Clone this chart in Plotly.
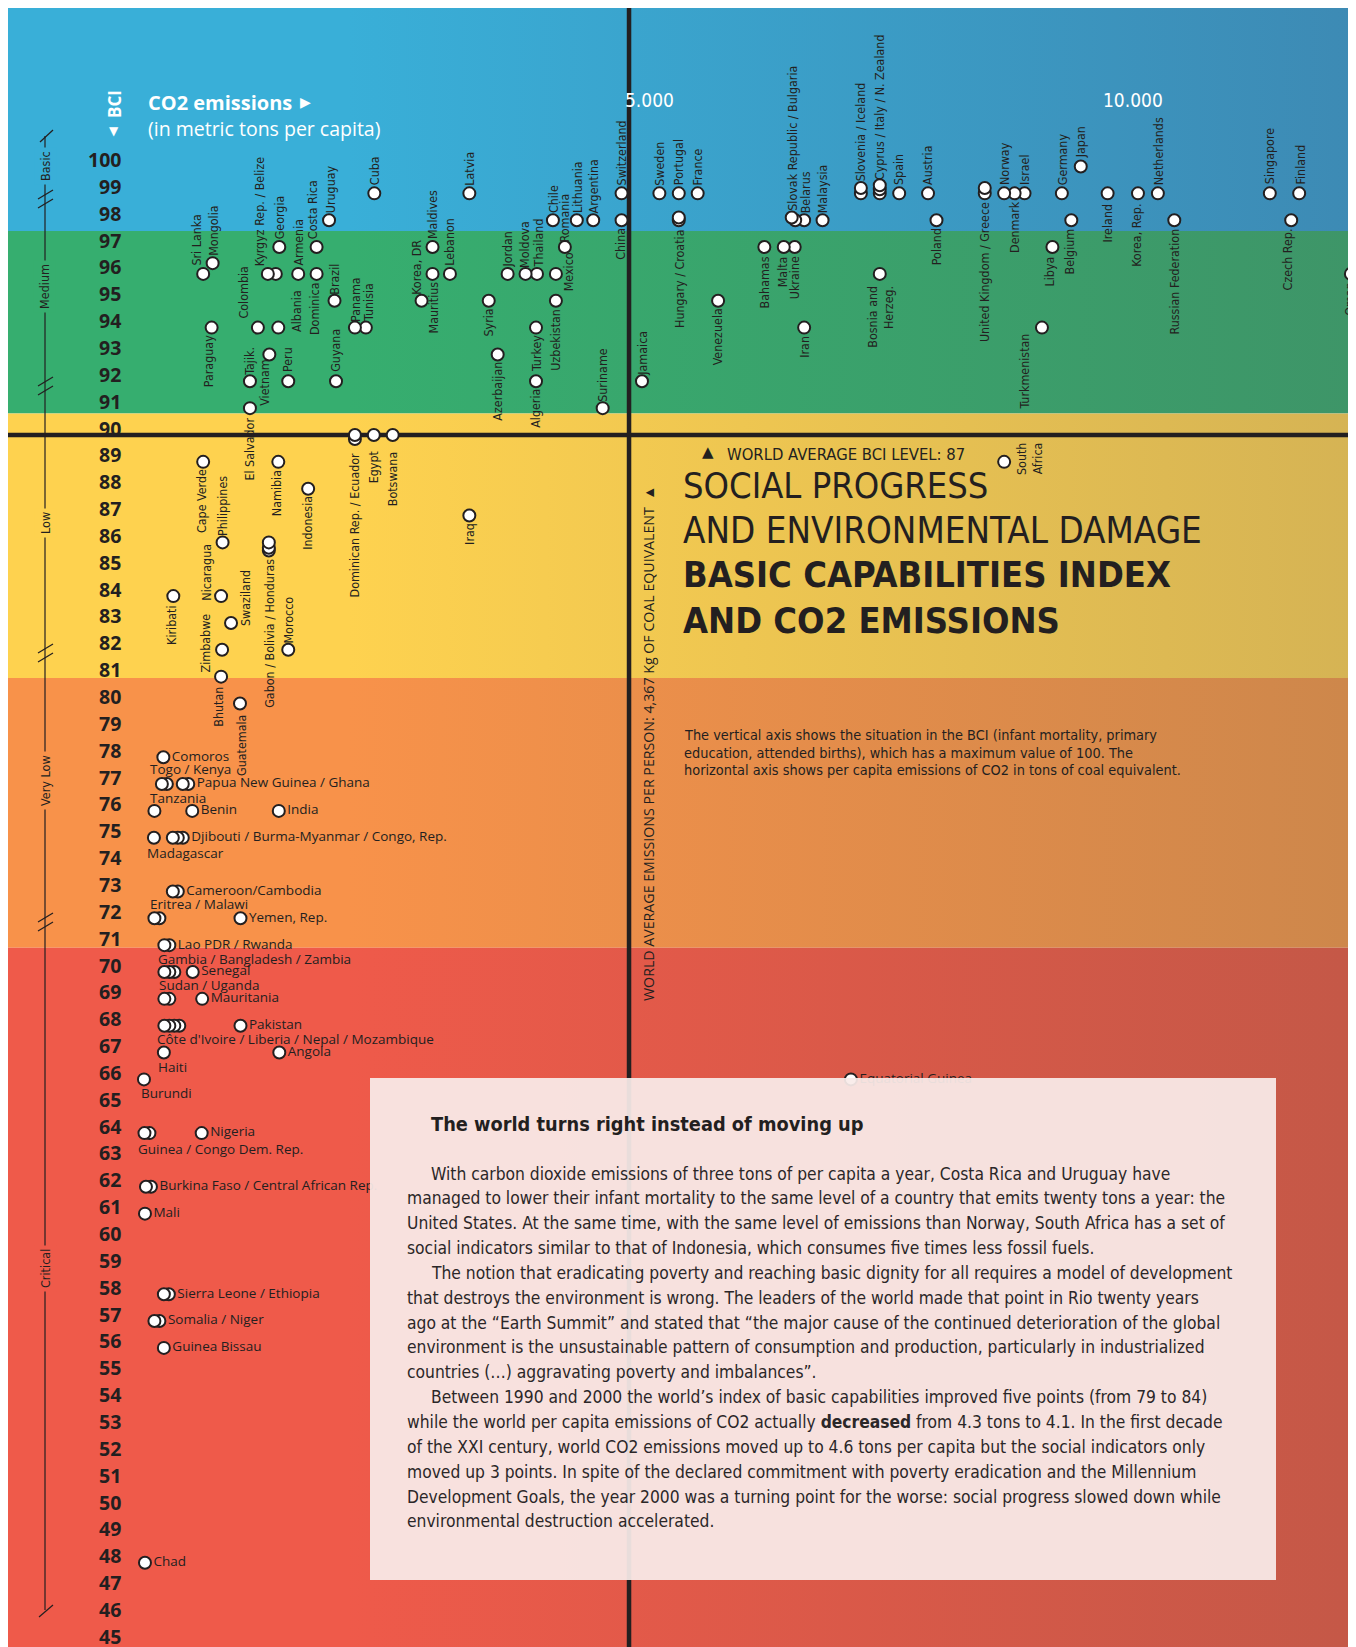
import plotly.graph_objects as go

# ------------------------------------------------------------------ data
countries = [
    "Sri Lanka", "Mongolia", "Kyrgyz Rep.", "Belize", "Georgia", "Armenia",
    "Costa Rica", "Uruguay", "Dominica", "Brazil", "Colombia", "Albania",
    "Paraguay", "Tajik.", "Vietnam", "Peru", "Guyana", "El Salvador",
    "Panama", "Tunisia", "Cuba", "Korea, DR", "Mauritius", "Maldives",
    "Lebanon", "Latvia", "Syria", "Azerbaijan", "Jordan", "Moldova",
    "Thailand", "Turkey", "Algeria", "Uzbekistan", "Mexico", "Romania",
    "Chile", "Lithuania", "Argentina", "Suriname", "China", "Switzerland",
    "Jamaica", "Sweden", "Portugal", "France", "Hungary", "Croatia",
    "Venezuela", "Bahamas", "Malta", "Ukraine", "Iran", "Slovak Republic",
    "Bulgaria", "Belarus", "Malaysia", "Slovenia", "Iceland", "Cyprus",
    "Italy", "N. Zealand", "Spain", "Bosnia and Herzeg.", "Austria", "Poland",
    "United Kingdom", "Greece", "Norway", "Denmark", "Israel", "Turkmenistan",
    "Libya", "Germany", "Japan", "Belgium", "Ireland", "Korea, Rep.",
    "Netherlands", "Russian Federation", "Singapore", "Finland", "Czech Rep.", "Oman",
    "South Africa", "Equatorial Guinea", "Dominican Rep.", "Ecuador", "Egypt", "Botswana",
    "Cape Verde", "Philippines", "Namibia", "Indonesia", "Iraq", "Gabon",
    "Bolivia", "Honduras", "Nicaragua", "Kiribati", "Swaziland", "Zimbabwe",
    "Morocco", "Bhutan", "Guatemala", "Comoros", "Togo", "Kenya",
    "Papua New Guinea", "Ghana", "Tanzania", "Benin", "India", "Madagascar",
    "Djibouti", "Burma-Myanmar", "Congo, Rep.", "Cameroon", "Cambodia", "Eritrea",
    "Malawi", "Yemen, Rep.", "Lao PDR", "Rwanda", "Gambia", "Bangladesh",
    "Zambia", "Senegal", "Sudan", "Uganda", "Mauritania", "Côte d'Ivoire",
    "Liberia", "Nepal", "Mozambique", "Pakistan", "Haiti", "Angola",
    "Burundi", "Guinea", "Congo Dem. Rep.", "Nigeria", "Burkina Faso", "Central African Rep.",
    "Mali", "Sierra Leone", "Ethiopia", "Somalia", "Niger", "Guinea Bissau",
    "Chad",
]
co2_kg = [
    655, 750, 1305, 1385, 1420, 1610,
    1795, 1920, 1795, 1975, 1205, 1410,
    740, 1125, 1320, 1510, 1990, 1125,
    2180, 2290, 2375, 2850, 2960, 2960,
    3135, 3330, 3525, 3615, 3715, 3895,
    4010, 4000, 4000, 4200, 4200, 4290,
    4170, 4410, 4575, 4670, 4860, 4860,
    5065, 5240, 5435, 5625, 5435, 5435,
    5830, 6295, 6490, 6600, 6695, 6570,
    6605, 6695, 6880, 7265, 7265, 7455,
    7455, 7455, 7650, 7455, 7940, 8025,
    8510, 8510, 8705, 8810, 8910, 9085,
    9190, 9285, 9475, 9380, 9745, 10050,
    10250, 10415, 11375, 11670, 11590, 12190,
    8705, 7165, 2180, 2180, 2370, 2560,
    655, 850, 1410, 1710, 3330, 1315,
    1315, 1315, 835, 355, 935, 845,
    1510, 835, 1025, 255, 240, 290,
    450, 505, 165, 545, 1415, 160,
    350, 400, 450, 350, 400, 165,
    215, 1030, 265, 315, 265, 315,
    365, 550, 265, 315, 645, 265,
    315, 365, 415, 1030, 260, 1420,
    60, 65, 115, 640, 80, 130,
    70, 260, 310, 165, 215, 260,
    70,
]
bci = [
    96, 96.4, 96, 96, 97, 96,
    97, 98, 96, 95, 94, 94,
    94, 92, 93, 92, 92, 91,
    94, 94, 99, 95, 96, 97,
    96, 99, 95, 93, 96, 96,
    96, 94, 92, 95, 96, 97,
    98, 98, 98, 91, 98, 99,
    92, 99, 99, 99, 98.1, 98,
    95, 97, 97, 97, 94, 98.1,
    98, 98, 98, 99.2, 99, 99.3,
    99.15, 99, 99, 96, 99, 98,
    99.2, 99, 99, 99, 99, 94,
    97, 99, 100, 98, 99, 99,
    99, 98, 99, 99, 98, 96,
    89, 66, 90, 89.85, 90, 90,
    89, 86, 89, 88, 87, 86,
    85.8, 85.7, 84, 84, 83, 82,
    82, 81, 80, 78, 77, 77,
    77, 77, 76, 76, 76, 75,
    75, 75, 75, 73, 73, 72,
    72, 72, 71, 71, 70, 70,
    70, 70, 69, 69, 69, 68,
    68, 68, 68, 68, 67, 67,
    66, 64, 64, 64, 62, 62,
    61, 58, 58, 57, 57, 56,
    48,
]

# labels shared by several overlapping dots
group_members = {
    "Kyrgyz Rep. / Belize": ["Kyrgyz Rep.", "Belize"],
    "Hungary / Croatia": ["Hungary", "Croatia"],
    "Slovak Republic / Bulgaria": ["Slovak Republic", "Bulgaria"],
    "Slovenia / Iceland": ["Slovenia", "Iceland"],
    "Cyprus / Italy / N. Zealand": ["Cyprus", "Italy", "N. Zealand"],
    "United Kingdom / Greece": ["United Kingdom", "Greece"],
    "Dominican Rep. / Ecuador": ["Dominican Rep.", "Ecuador"],
    "Gabon / Bolivia / Honduras": ["Gabon", "Bolivia", "Honduras"],
    "Togo / Kenya": ["Togo", "Kenya"],
    "Papua New Guinea / Ghana": ["Papua New Guinea", "Ghana"],
    "Djibouti / Burma-Myanmar / Congo, Rep.": ["Djibouti", "Burma-Myanmar", "Congo, Rep."],
    "Cameroon/Cambodia": ["Cameroon", "Cambodia"],
    "Eritrea / Malawi": ["Eritrea", "Malawi"],
    "Lao PDR / Rwanda": ["Lao PDR", "Rwanda"],
    "Gambia / Bangladesh / Zambia": ["Gambia", "Bangladesh", "Zambia"],
    "Sudan / Uganda": ["Sudan", "Uganda"],
    "Côte d'Ivoire / Liberia / Nepal / Mozambique": ["Côte d'Ivoire", "Liberia", "Nepal", "Mozambique"],
    "Guinea / Congo Dem. Rep.": ["Guinea", "Congo Dem. Rep."],
    "Burkina Faso / Central African Rep.": ["Burkina Faso", "Central African Rep."],
    "Sierra Leone / Ethiopia": ["Sierra Leone", "Ethiopia"],
    "Somalia / Niger": ["Somalia", "Niger"],
}
label_text = {"Bosnia and Herzeg.": "Bosnia and<br>Herzeg.", "South Africa": "South<br>Africa"}

bci_ticks = list(range(45, 101))
x_tick_vals = [5000, 10000]
x_tick_text = ["5.000", "10.000"]

world_avg_bci_line = 90          # horizontal line, as drawn
world_avg_emission_line = 4935   # vertical line, as drawn on the emission scale

band_names = ["Basic", "Medium", "Low", "Very Low", "Critical"]
band_edges = [97.6, 90.8, 80.95, 70.9]

# ------------------------------------------------------------------ label placement (style)
# kind: up / down = rotated text above / below the dot; ha / hb = horizontal above / below;
# r = horizontal, right of the dot.  dx, dy: pixel offsets (dy positive = downwards)
LABEL_POS = {
    "Sri Lanka": ("up", -7, -7), "Mongolia": ("up", 1, -6), "Kyrgyz Rep. / Belize": ("up", -8, -7),
    "Georgia": ("up", 0, -7), "Armenia": ("up", 0, -7), "Costa Rica": ("up", -4, -7),
    "Uruguay": ("up", 1, -6), "Dominica": ("down", -2, 7), "Brazil": ("up", 0, -5),
    "Colombia": ("up", -14, -8), "Albania": ("up", 18, 5), "Paraguay": ("down", -3, 7),
    "Tajik.": ("up", 0, -5), "Vietnam": ("down", -5, 4), "Peru": ("up", 0, -8),
    "Guyana": ("up", 0, -8), "El Salvador": ("down", 0, 8), "Panama": ("up", 0, -5),
    "Tunisia": ("up", 2, -5), "Cuba": ("up", 1, -7), "Korea, DR": ("up", -5, -5),
    "Mauritius": ("down", 1, 7), "Maldives": ("up", 0, -7), "Lebanon": ("up", 0, -7),
    "Latvia": ("up", 0, -7), "Syria": ("down", 0, 7), "Azerbaijan": ("down", 0, 6),
    "Jordan": ("up", 0, -5), "Moldova": ("up", -1, -5), "Thailand": ("up", 1, -5),
    "Turkey": ("down", 0, 7), "Algeria": ("down", 0, 7), "Uzbekistan": ("down", 0, 7),
    "Mexico": ("up", 12, 18), "Romania": ("up", 0, -4), "Chile": ("up", 0, -6),
    "Lithuania": ("up", 0, -6), "Argentina": ("up", 0, -6), "Suriname": ("up", -1, -5),
    "China": ("down", -1, 7), "Switzerland": ("up", 0, -7), "Jamaica": ("up", 1, -5),
    "Sweden": ("up", 0, -7), "Portugal": ("up", 0, -7), "France": ("up", 0, -7),
    "Hungary / Croatia": ("down", 0, 9), "Venezuela": ("down", -1, 7), "Bahamas": ("down", 0, 8),
    "Malta": ("down", -1, 8), "Ukraine": ("down", 0, 8), "Iran": ("down", 0, 7),
    "Slovak Republic / Bulgaria": ("up", 0, -6), "Belarus": ("up", 1, -6), "Malaysia": ("up", 0, -6),
    "Slovenia / Iceland": ("up", 0, -6), "Cyprus / Italy / N. Zealand": ("up", 0, -4),
    "Spain": ("up", 0, -7), "Bosnia and Herzeg.": ("down", 1, 11), "Austria": ("up", 0, -7),
    "Poland": ("down", 0, 7), "United Kingdom / Greece": ("down", 0, 8), "Norway": ("up", 1, -7),
    "Denmark": ("down", 0, 7), "Israel": ("up", 0, -7), "Turkmenistan": ("down", -17, 5),
    "Libya": ("down", -3, 8), "Germany": ("up", 0, -7), "Japan": ("up", 0, -7),
    "Belgium": ("down", -2, 7), "Ireland": ("down", 0, 9), "Korea, Rep.": ("down", -1, 9),
    "Netherlands": ("up", 0, -7), "Russian Federation": ("down", 0, 7), "Singapore": ("up", 0, -8),
    "Finland": ("up", 1, -8), "Czech Rep.": ("down", -4, 7), "Oman": ("down", -1, 7),
    "South Africa": ("up", 26, 14),
    "Dominican Rep. / Ecuador": ("down", 0, 12), "Egypt": ("down", 0, 14), "Botswana": ("down", 0, 15),
    "Cape Verde": ("down", -1, 6), "Philippines": ("up", 0, -5), "Namibia": ("down", -1, 7),
    "Indonesia": ("down", 0, 6), "Iraq": ("down", 0, 6), "Gabon / Bolivia / Honduras": ("down", 1, 7),
    "Nicaragua": ("up", -14, 6), "Kiribati": ("down", -2, 9), "Swaziland": ("up", 15, 4),
    "Zimbabwe": ("up", -17, 24), "Morocco": ("up", 0, -5), "Bhutan": ("down", -2, 9),
    "Guatemala": ("down", 1, 10),
    "Togo / Kenya": ("ha", -12, -15), "Tanzania": ("ha", -4, -13), "Eritrea / Malawi": ("ha", -4, -14),
    "Gambia / Bangladesh / Zambia": ("ha", -6, -13), "Sudan / Uganda": ("ha", -5, -14),
    "Madagascar": ("hb", -7, 15), "Côte d'Ivoire / Liberia / Nepal / Mozambique": ("hb", -7, 13),
    "Haiti": ("hb", -6, 14), "Burundi": ("hb", -3, 14), "Guinea / Congo Dem. Rep.": ("hb", -6, 16),
    "Comoros": ("r", 0, 0), "Papua New Guinea / Ghana": ("r", 0, 0), "Benin": ("r", 0, 0),
    "India": ("r", 0, 0), "Djibouti / Burma-Myanmar / Congo, Rep.": ("r", 0, 0),
    "Cameroon/Cambodia": ("r", 0, 0), "Yemen, Rep.": ("r", 0, 0), "Lao PDR / Rwanda": ("r", 0, 0),
    "Senegal": ("r", 0, 0), "Mauritania": ("r", 0, 0), "Pakistan": ("r", 0, 0), "Angola": ("r", 0, 0),
    "Nigeria": ("r", 0, 0), "Burkina Faso / Central African Rep.": ("r", 0, 0), "Mali": ("r", 0, 0),
    "Sierra Leone / Ethiopia": ("r", 0, 0), "Somalia / Niger": ("r", 0, 0),
    "Guinea Bissau": ("r", 0, 0), "Chad": ("r", 0, 0), "Equatorial Guinea": ("r", 0, 0),
}

# ------------------------------------------------------------------ geometry
W, H, OFF = 1356, 1647, 8
X0, KPX = 138.0, 0.0995          # page px of 0 kg, px per kg
Y90, UPX = 435.0, 26.85          # page px of BCI 90, px per BCI point

x_range = [(OFF - X0) / KPX, (OFF + W - X0) / KPX]
y_range = [90 - (OFF + H - Y90) / UPX, 90 + (Y90 - OFF) / UPX]


def px(X):
    return (X - OFF) / W


def py(Y):
    return 1 - (Y - OFF) / H


INK = "#231f20"
NARROW = "Liberation Sans Narrow, Arial Narrow, DejaVu Sans Condensed, sans-serif"
SANS = "Open Sans, sans-serif"

BAND_COLORS = [("#39afd8", "#3d8ab4"), ("#36ae6f", "#3e9568"), ("#fed24f", "#d5b354"),
               ("#f8924a", "#cd874b"), ("#ef5a4a", "#c45847")]

fig = go.Figure()

# ------------------------------------------------------------------ background bands
bounds = [y_range[1]] + band_edges + [y_range[0]]
for k in range(5):
    hi, lo = bounds[k], bounds[k + 1]
    cl, cr = BAND_COLORS[k]
    fig.add_trace(go.Scatter(
        x=[x_range[0], x_range[1], x_range[1], x_range[0], x_range[0]],
        y=[lo, lo, hi, hi, lo], mode="lines", fill="toself",
        fillgradient=dict(type="horizontal", colorscale=[[0, cl], [0.25, cl], [1, cr]]),
        line=dict(width=0), hoverinfo="skip", showlegend=False))

# ------------------------------------------------------------------ world average lines
fig.add_trace(go.Scatter(x=x_range, y=[world_avg_bci_line] * 2, mode="lines",
                         line=dict(color=INK, width=4.5), hoverinfo="skip", showlegend=False))
fig.add_trace(go.Scatter(x=[world_avg_emission_line] * 2, y=y_range, mode="lines",
                         line=dict(color=INK, width=4.5), hoverinfo="skip", showlegend=False))

# ------------------------------------------------------------------ dots
idx = {c: i for i, c in enumerate(countries)}
right_text = {}
for lab, (kind, dx, dy) in LABEL_POS.items():
    if kind == "r":
        mem = group_members.get(lab, [lab])
        rightmost = max(mem, key=lambda m: co2_kg[idx[m]])
        right_text[rightmost] = lab

order = sorted(range(len(countries)), key=lambda i: (-co2_kg[i], bci[i]))
fig.add_trace(go.Scatter(
    x=[co2_kg[i] for i in order], y=[bci[i] for i in order],
    mode="markers+text",
    text=[right_text.get(countries[i], "") for i in order],
    textposition="middle right",
    textfont=dict(family=SANS, size=13.5, color=INK),
    marker=dict(size=12, color="white", line=dict(color=INK, width=2)),
    hovertext=[countries[i] for i in order], hoverinfo="text", showlegend=False))

annotations = []

# ------------------------------------------------------------------ country labels
for lab, (kind, dx, dy) in LABEL_POS.items():
    if kind == "r":
        continue
    mem = group_members.get(lab, [lab])
    xs = [co2_kg[idx[m]] for m in mem]
    ys = [bci[idx[m]] for m in mem]
    bx = min(xs)
    txt = label_text.get(lab, lab)
    if kind in ("up", "down"):
        by = max(ys) if kind == "up" else min(ys)
        annotations.append(dict(
            x=bx, y=by, xref="x", yref="y", text=txt, showarrow=False, textangle=-90,
            xanchor="center", yanchor="bottom" if kind == "up" else "top", align="right",
            xshift=dx, yshift=-dy, borderpad=0,
            font=dict(family=NARROW, size=12.4, color=INK)))
    else:
        by = ys[0]
        annotations.append(dict(
            x=bx, y=by, xref="x", yref="y", text=txt, showarrow=False,
            xanchor="left", yanchor="middle", xshift=dx - 1, yshift=-dy, borderpad=0,
            font=dict(family=SANS, size=13.5, color=INK)))

# ------------------------------------------------------------------ BCI numbers
for t in bci_ticks:
    annotations.append(dict(x=px(123), xref="paper", y=t, yref="y", yshift=7,
                            text=f"<b>{t}</b>", showarrow=False, xanchor="right", yanchor="middle",
                            font=dict(family=SANS, size=19.5, color=INK)))

# emission tick labels
for v, s, sh in zip(x_tick_vals, x_tick_text, [14, 0]):
    annotations.append(dict(x=v, xref="x", y=py(100), yref="paper", text=s, showarrow=False,
                            xanchor="center", yanchor="middle", xshift=sh,
                            font=dict(family=NARROW, size=19, color="white")))


def pa(X, Y, text, xa="left", size=14, family=NARROW, color=INK, angle=0, **kw):
    d = dict(x=px(X), y=py(Y), xref="paper", yref="paper", text=text, showarrow=False,
             xanchor=xa, yanchor="middle", textangle=angle,
             font=dict(family=family, size=size, color=color))
    d.update(kw)
    return d


# header
annotations += [
    pa(114, 104, "<b>BCI</b>", "center", 17, SANS, "white", -90),
    pa(114, 131, "▼", "center", 12, "DejaVu Sans", "white"),
    pa(146, 102, "<b>CO2 emissions</b>", "left", 20, SANS, "white"),
    pa(305, 102, "▶", "center", 14, "DejaVu Sans", "white"),
    pa(146, 128, "(in metric tons per capita)", "left", 19.5, SANS, "white"),
]

# title block
annotations += [
    pa(708, 452, "▲", "center", 15, "DejaVu Sans"),
    pa(725, 455, "WORLD AVERAGE BCI LEVEL: 87", "left", 16.5),
    pa(681, 485, "SOCIAL PROGRESS", "left", 36),
    pa(681, 530, "AND ENVIRONMENTAL DAMAGE", "left", 36.5),
    pa(681, 574, "<b>BASIC CAPABILITIES INDEX</b>", "left", 36),
    pa(681, 620, "<b>AND CO2 EMISSIONS</b>", "left", 36),
]
desc = ["The vertical axis shows the situation in the BCI (infant mortality, primary",
        "education, attended births), which has a maximum value of 100. The",
        "horizontal axis shows per capita emissions of CO2 in tons of coal equivalent."]
for k, line in enumerate(desc):
    annotations.append(pa(682, 735 + 17.5 * k, line, "left", 14.4))

annotations.append(pa(649, 744,
                      "WORLD AVERAGE EMISSIONS PER PERSON: 4,367 Kg OF COAL EQUIVALENT  ▲",
                      "center", 14.2, SANS, INK, -90))

# category bracket on the left
cat_pos = [(166, 0), (287, 1), (523, 2), (781, 3), (1269, 4)]
for Y, k in cat_pos:
    annotations.append(pa(45, Y, band_names[k], "center", 12.5, NARROW, INK, -90,
                          bgcolor=BAND_COLORS[k][0], borderpad=3))

shapes = []
LW = dict(color=INK, width=1.2)
shapes.append(dict(type="line", xref="paper", yref="paper", x0=px(45), x1=px(45),
                   y0=py(136), y1=py(1610), line=LW, layer="above"))
shapes.append(dict(type="line", xref="paper", yref="paper", x0=px(40), x1=px(53),
                   y0=py(142), y1=py(130), line=LW, layer="above"))
shapes.append(dict(type="line", xref="paper", yref="paper", x0=px(39), x1=px(53),
                   y0=py(1617), y1=py(1605), line=LW, layer="above"))
for Yt in (190, 377, 644, 913):
    for off in (0, 9):
        shapes.append(dict(type="line", xref="paper", yref="paper", x0=px(38), x1=px(53),
                           y0=py(Yt + 9 + off), y1=py(Yt + off), line=LW, layer="above"))

# text panel
shapes.append(dict(type="rect", xref="paper", yref="paper", x0=px(370), x1=px(1276),
                   y0=py(1580), y1=py(1078), fillcolor="rgba(249,236,234,0.93)",
                   line=dict(width=0), layer="above"))
annotations.append(pa(429, 1124, "<b>The world turns right instead of moving up</b>", "left", 19.8))
body = [
    (1, "With carbon dioxide emissions of three tons of per capita a year, Costa Rica and Uruguay have"),
    (0, "managed to lower their infant mortality to the same level of a country that emits twenty tons a year: the"),
    (0, "United States. At the same time, with the same level of emissions than Norway, South Africa has a set of"),
    (0, "social indicators similar to that of Indonesia, which consumes five times less fossil fuels."),
    (1, "The notion that eradicating poverty and reaching basic dignity for all requires a model of development"),
    (0, "that destroys the environment is wrong. The leaders of the world made that point in Rio twenty years"),
    (0, "ago at the “Earth Summit” and stated that “the major cause of the continued deterioration of the global"),
    (0, "environment is the unsustainable pattern of consumption and production, particularly in industrialized"),
    (0, "countries (…) aggravating poverty and imbalances”."),
    (1, "Between 1990 and 2000 the world’s index of basic capabilities improved five points (from 79 to 84)"),
    (0, "while the world per capita emissions of CO2 actually <b>decreased</b> from 4.3 tons to 4.1. In the first decade"),
    (0, "of the XXI century, world CO2 emissions moved up to 4.6 tons per capita but the social indicators only"),
    (0, "moved up 3 points. In spite of the declared commitment with poverty eradication and the Millennium"),
    (0, "Development Goals, the year 2000 was a turning point for the worse: social progress slowed down while"),
    (0, "environmental destruction accelerated."),
]
for k, (indent, line) in enumerate(body):
    annotations.append(pa(429 if indent else 405, 1173.5 + 24.85 * k, line, "left", 17.3,
                          NARROW, "#2b2728"))

fig.update_layout(
    width=W, height=H, autosize=False,
    margin=dict(l=0, r=0, t=0, b=0, pad=0),
    paper_bgcolor="white", plot_bgcolor="rgba(0,0,0,0)",
    xaxis=dict(range=x_range, domain=[0, 1], visible=False, fixedrange=True),
    yaxis=dict(range=y_range, domain=[0, 1], visible=False, fixedrange=True),
    annotations=annotations, shapes=shapes, showlegend=False,
    hovermode="closest",
)

fig.write_html("out.html")
